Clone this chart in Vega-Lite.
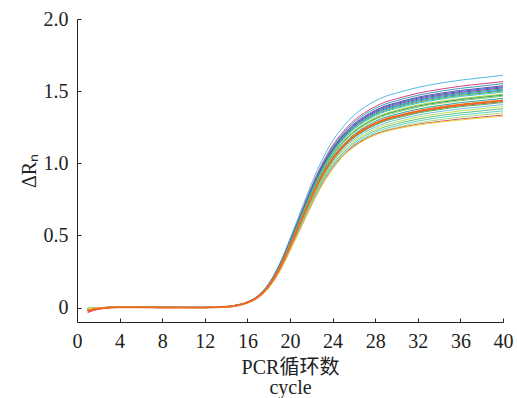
{
  "$schema": "https://vega.github.io/schema/vega-lite/v6.json",
  "width": 426,
  "height": 303,
  "autosize": "none",
  "padding": {"left": 77, "top": 19, "right": 14, "bottom": 76},
  "background": "white",
  "config": {
    "view": {"stroke": null},
    "font": "Liberation Serif",
    "axis": {
      "grid": false,
      "domainColor": "#222222",
      "tickColor": "#222222",
      "tickSize": -4,
      "labelFlush": false,
      "labelFont": "Liberation Serif",
      "titleFont": "Liberation Serif, Noto Sans CJK SC",
      "labelFontSize": 20,
      "titleFontSize": 20,
      "titleFontWeight": "normal",
      "labelColor": "#222222",
      "titleColor": "#222222"
    }
  },
  "data": {
    "values": [
      {"cyc": 1, "a": -0.010, "b": -0.020, "c": -0.005, "d": -0.015, "e": -0.010, "f": -0.020, "g": -0.008, "h": -0.012, "i": -0.006, "j": -0.015, "k": -0.010, "l": -0.020, "m": -0.005, "n": -0.012, "o": -0.022, "p": -0.030, "q": -0.008, "r": -0.015, "s": -0.004, "t": -0.010, "u": -0.018, "v": -0.006, "w": -0.035, "x": -0.010},
      {"cyc": 2, "a": -0.004, "b": -0.006, "c": -0.002, "d": -0.005, "e": -0.003, "f": -0.006, "g": -0.002, "h": -0.004, "i": -0.001, "j": -0.005, "k": -0.003, "l": -0.006, "m": -0.001, "n": -0.004, "o": -0.007, "p": -0.010, "q": -0.002, "r": -0.005, "s": 0.000, "t": -0.003, "u": -0.006, "v": -0.001, "w": -0.012, "x": -0.003},
      {"cyc": 4, "a": 0.003, "b": 0.002, "c": 0.003, "d": 0.002, "e": 0.003, "f": 0.002, "g": 0.003, "h": 0.002, "i": 0.003, "j": 0.002, "k": 0.003, "l": 0.002, "m": 0.003, "n": 0.002, "o": 0.002, "p": 0.001, "q": 0.003, "r": 0.002, "s": 0.003, "t": 0.002, "u": 0.002, "v": 0.003, "w": 0.001, "x": 0.002},
      {"cyc": 8, "a": 0.002, "b": 0.001, "c": 0.000, "d": 0.001, "e": 0.002, "f": 0.000, "g": 0.001, "h": 0.002, "i": 0.001, "j": 0.000, "k": 0.001, "l": 0.002, "m": 0.001, "n": 0.000, "o": 0.001, "p": 0.000, "q": 0.002, "r": 0.001, "s": 0.001, "t": 0.000, "u": 0.001, "v": 0.002, "w": 0.000, "x": 0.001},
      {"cyc": 12, "a": 0.001, "b": 0.000, "c": 0.001, "d": 0.000, "e": 0.001, "f": 0.001, "g": 0.000, "h": 0.001, "i": 0.000, "j": 0.001, "k": 0.000, "l": 0.001, "m": 0.000, "n": 0.001, "o": 0.000, "p": 0.000, "q": 0.001, "r": 0.000, "s": 0.001, "t": 0.000, "u": 0.001, "v": 0.000, "w": 0.000, "x": 0.001},
      {"cyc": 14, "a": 0.007, "b": 0.006, "c": 0.006, "d": 0.006, "e": 0.006, "f": 0.006, "g": 0.005, "h": 0.005, "i": 0.005, "j": 0.005, "k": 0.005, "l": 0.005, "m": 0.005, "n": 0.005, "o": 0.005, "p": 0.005, "q": 0.004, "r": 0.004, "s": 0.004, "t": 0.004, "u": 0.004, "v": 0.004, "w": 0.004, "x": 0.004},
      {"cyc": 15, "a": 0.018, "b": 0.017, "c": 0.017, "d": 0.016, "e": 0.016, "f": 0.016, "g": 0.016, "h": 0.016, "i": 0.016, "j": 0.015, "k": 0.015, "l": 0.015, "m": 0.015, "n": 0.015, "o": 0.015, "p": 0.015, "q": 0.014, "r": 0.014, "s": 0.014, "t": 0.014, "u": 0.014, "v": 0.014, "w": 0.013, "x": 0.013},
      {"cyc": 16, "a": 0.039, "b": 0.038, "c": 0.037, "d": 0.037, "e": 0.037, "f": 0.037, "g": 0.036, "h": 0.036, "i": 0.036, "j": 0.036, "k": 0.036, "l": 0.035, "m": 0.035, "n": 0.035, "o": 0.035, "p": 0.034, "q": 0.034, "r": 0.034, "s": 0.034, "t": 0.033, "u": 0.033, "v": 0.033, "w": 0.032, "x": 0.032},
      {"cyc": 17, "a": 0.083, "b": 0.081, "c": 0.080, "d": 0.080, "e": 0.079, "f": 0.079, "g": 0.078, "h": 0.078, "i": 0.078, "j": 0.077, "k": 0.077, "l": 0.076, "m": 0.076, "n": 0.075, "o": 0.074, "p": 0.074, "q": 0.074, "r": 0.073, "s": 0.072, "t": 0.071, "u": 0.071, "v": 0.070, "w": 0.069, "x": 0.069},
      {"cyc": 18, "a": 0.167, "b": 0.162, "c": 0.161, "d": 0.159, "e": 0.158, "f": 0.158, "g": 0.157, "h": 0.156, "i": 0.155, "j": 0.155, "k": 0.153, "l": 0.152, "m": 0.152, "n": 0.150, "o": 0.149, "p": 0.148, "q": 0.147, "r": 0.146, "s": 0.144, "t": 0.143, "u": 0.141, "v": 0.140, "w": 0.138, "x": 0.137},
      {"cyc": 19, "a": 0.300, "b": 0.292, "c": 0.289, "d": 0.286, "e": 0.285, "f": 0.284, "g": 0.282, "h": 0.281, "i": 0.279, "j": 0.278, "k": 0.275, "l": 0.274, "m": 0.273, "n": 0.270, "o": 0.267, "p": 0.266, "q": 0.265, "r": 0.262, "s": 0.259, "t": 0.257, "u": 0.254, "v": 0.251, "w": 0.248, "x": 0.247},
      {"cyc": 20, "a": 0.477, "b": 0.464, "c": 0.460, "d": 0.456, "e": 0.454, "f": 0.452, "g": 0.449, "h": 0.447, "i": 0.445, "j": 0.443, "k": 0.439, "l": 0.436, "m": 0.434, "n": 0.430, "o": 0.426, "p": 0.424, "q": 0.421, "r": 0.417, "s": 0.413, "t": 0.409, "u": 0.404, "v": 0.400, "w": 0.396, "x": 0.393},
      {"cyc": 21, "a": 0.666, "b": 0.648, "c": 0.642, "d": 0.636, "e": 0.633, "f": 0.630, "g": 0.627, "h": 0.624, "i": 0.621, "j": 0.618, "k": 0.612, "l": 0.609, "m": 0.606, "n": 0.600, "o": 0.594, "p": 0.591, "q": 0.588, "r": 0.582, "s": 0.576, "t": 0.570, "u": 0.564, "v": 0.558, "w": 0.552, "x": 0.549},
      {"cyc": 22, "a": 0.855, "b": 0.832, "c": 0.824, "d": 0.816, "e": 0.812, "f": 0.809, "g": 0.805, "h": 0.801, "i": 0.797, "j": 0.793, "k": 0.785, "l": 0.782, "m": 0.778, "n": 0.770, "o": 0.762, "p": 0.758, "q": 0.755, "r": 0.747, "s": 0.739, "t": 0.732, "u": 0.724, "v": 0.716, "w": 0.708, "x": 0.705},
      {"cyc": 23, "a": 1.021, "b": 0.994, "c": 0.984, "d": 0.975, "e": 0.971, "f": 0.966, "g": 0.961, "h": 0.957, "i": 0.952, "j": 0.948, "k": 0.938, "l": 0.934, "m": 0.929, "n": 0.920, "o": 0.911, "p": 0.906, "q": 0.902, "r": 0.892, "s": 0.883, "t": 0.874, "u": 0.865, "v": 0.856, "w": 0.850, "x": 0.846},
      {"cyc": 24, "a": 1.154, "b": 1.123, "c": 1.113, "d": 1.102, "e": 1.097, "f": 1.092, "g": 1.087, "h": 1.082, "i": 1.076, "j": 1.071, "k": 1.061, "l": 1.056, "m": 1.050, "n": 1.040, "o": 1.030, "p": 1.024, "q": 1.019, "r": 1.009, "s": 0.998, "t": 0.988, "u": 0.978, "v": 0.967, "w": 0.965, "x": 0.960},
      {"cyc": 25, "a": 1.254, "b": 1.220, "c": 1.209, "d": 1.198, "e": 1.192, "f": 1.187, "g": 1.181, "h": 1.175, "i": 1.170, "j": 1.164, "k": 1.153, "l": 1.147, "m": 1.141, "n": 1.130, "o": 1.119, "p": 1.113, "q": 1.107, "r": 1.096, "s": 1.085, "t": 1.074, "u": 1.062, "v": 1.055, "w": 1.055, "x": 1.050},
      {"cyc": 26, "a": 1.332, "b": 1.296, "c": 1.284, "d": 1.272, "e": 1.266, "f": 1.260, "g": 1.254, "h": 1.248, "i": 1.242, "j": 1.236, "k": 1.224, "l": 1.218, "m": 1.212, "n": 1.200, "o": 1.188, "p": 1.182, "q": 1.176, "r": 1.164, "s": 1.152, "t": 1.140, "u": 1.128, "v": 1.122, "w": 1.120, "x": 1.112},
      {"cyc": 27, "a": 1.388, "b": 1.350, "c": 1.338, "d": 1.325, "e": 1.319, "f": 1.313, "g": 1.306, "h": 1.300, "i": 1.294, "j": 1.288, "k": 1.275, "l": 1.269, "m": 1.263, "n": 1.250, "o": 1.238, "p": 1.231, "q": 1.225, "r": 1.213, "s": 1.200, "t": 1.188, "u": 1.175, "v": 1.168, "w": 1.165, "x": 1.160},
      {"cyc": 28, "a": 1.432, "b": 1.393, "c": 1.380, "d": 1.367, "e": 1.361, "f": 1.355, "g": 1.348, "h": 1.342, "i": 1.335, "j": 1.329, "k": 1.316, "l": 1.309, "m": 1.303, "n": 1.290, "o": 1.277, "p": 1.271, "q": 1.264, "r": 1.251, "s": 1.238, "t": 1.226, "u": 1.213, "v": 1.204, "w": 1.200, "x": 1.195},
      {"cyc": 29, "a": 1.465, "b": 1.426, "c": 1.412, "d": 1.399, "e": 1.393, "f": 1.386, "g": 1.379, "h": 1.373, "i": 1.366, "j": 1.360, "k": 1.346, "l": 1.340, "m": 1.333, "n": 1.320, "o": 1.307, "p": 1.300, "q": 1.294, "r": 1.280, "s": 1.267, "t": 1.254, "u": 1.241, "v": 1.230, "w": 1.225, "x": 1.220},
      {"cyc": 30, "a": 1.487, "b": 1.447, "c": 1.434, "d": 1.420, "e": 1.414, "f": 1.407, "g": 1.400, "h": 1.394, "i": 1.387, "j": 1.380, "k": 1.367, "l": 1.360, "m": 1.353, "n": 1.340, "o": 1.327, "p": 1.320, "q": 1.313, "r": 1.300, "s": 1.286, "t": 1.273, "u": 1.260, "v": 1.248, "w": 1.242, "x": 1.238},
      {"cyc": 32, "a": 1.526, "b": 1.485, "c": 1.471, "d": 1.458, "e": 1.451, "f": 1.444, "g": 1.437, "h": 1.430, "i": 1.423, "j": 1.416, "k": 1.403, "l": 1.396, "m": 1.389, "n": 1.375, "o": 1.361, "p": 1.354, "q": 1.348, "r": 1.334, "s": 1.320, "t": 1.306, "u": 1.293, "v": 1.280, "w": 1.270, "x": 1.265},
      {"cyc": 34, "a": 1.554, "b": 1.512, "c": 1.498, "d": 1.484, "e": 1.477, "f": 1.470, "g": 1.463, "h": 1.456, "i": 1.449, "j": 1.442, "k": 1.428, "l": 1.421, "m": 1.414, "n": 1.400, "o": 1.386, "p": 1.379, "q": 1.372, "r": 1.358, "s": 1.344, "t": 1.330, "u": 1.316, "v": 1.302, "w": 1.290, "x": 1.285},
      {"cyc": 36, "a": 1.576, "b": 1.534, "c": 1.519, "d": 1.505, "e": 1.498, "f": 1.491, "g": 1.484, "h": 1.477, "i": 1.470, "j": 1.463, "k": 1.448, "l": 1.441, "m": 1.434, "n": 1.420, "o": 1.406, "p": 1.399, "q": 1.392, "r": 1.377, "s": 1.363, "t": 1.349, "u": 1.335, "v": 1.321, "w": 1.307, "x": 1.300},
      {"cyc": 38, "a": 1.593, "b": 1.550, "c": 1.535, "d": 1.521, "e": 1.514, "f": 1.507, "g": 1.500, "h": 1.492, "i": 1.485, "j": 1.478, "k": 1.464, "l": 1.457, "m": 1.449, "n": 1.435, "o": 1.421, "p": 1.413, "q": 1.406, "r": 1.392, "s": 1.378, "t": 1.363, "u": 1.349, "v": 1.335, "w": 1.321, "x": 1.314},
      {"cyc": 40, "a": 1.610, "b": 1.566, "c": 1.552, "d": 1.537, "e": 1.530, "f": 1.523, "g": 1.515, "h": 1.508, "i": 1.501, "j": 1.494, "k": 1.479, "l": 1.472, "m": 1.465, "n": 1.450, "o": 1.436, "p": 1.428, "q": 1.421, "r": 1.407, "s": 1.392, "t": 1.378, "u": 1.363, "v": 1.349, "w": 1.334, "x": 1.327}
    ]
  },
  "transform": [
    {"fold": ["a","b","c","d","e","f","g","h","i","j","k","l","m","n","o","p","q","r","s","t","u","v","w","x"], "as": ["s", "v"]}
  ],
  "encoding": {
    "x": {
      "field": "cyc", "type": "quantitative",
      "scale": {"domain": [0, 40], "nice": false},
      "axis": {
        "values": [0, 4, 8, 12, 16, 20, 24, 28, 32, 36, 40],
        "labelPadding": 13,
        "title": ["PCR循环数", "cycle"],
        "titleLineHeight": 20,
        "titlePadding": 6
      }
    },
    "y": {
      "field": "v", "type": "quantitative",
      "scale": {"domain": [-0.1, 2.0], "nice": false, "zero": false},
      "axis": {
        "values": [0, 0.5, 1, 1.5, 2],
        "labelExpr": "datum.value == 0 ? '0' : format(datum.value, '.1f')",
        "labelPadding": 13,
        "title": "ΔRₙ",
        "titlePadding": 4
      }
    }
  },
  "layer": [
    {
      "transform": [{"filter": "datum.s != 'o'"}],
      "mark": {"type": "line", "strokeWidth": 1, "interpolate": "monotone"},
      "encoding": {
        "color": {
          "field": "s", "type": "nominal", "legend": null,
          "scale": {
            "domain": ["a","b","c","d","e","f","g","h","i","j","k","l","m","n","p","q","r","s","t","u","v","w","x"],
            "range": ["#55b8e8","#d8408a","#3a9fb0","#6048b0","#3a6cc8","#8a3aa8","#20a89a","#4080d0","#58b848","#40c0d0","#a8d040","#30a050","#88cc70","#2aa8a0","#e04040","#50b060","#70c0e0","#c0dc50","#60c080","#60d0c8","#a8e080","#e04a70","#e8d840"]
          }
        }
      }
    },
    {
      "transform": [{"filter": "datum.s == 'o'"}],
      "mark": {"type": "line", "strokeWidth": 2, "color": "#f06a20", "interpolate": "monotone"},
      "encoding": {}
    }
  ]
}
